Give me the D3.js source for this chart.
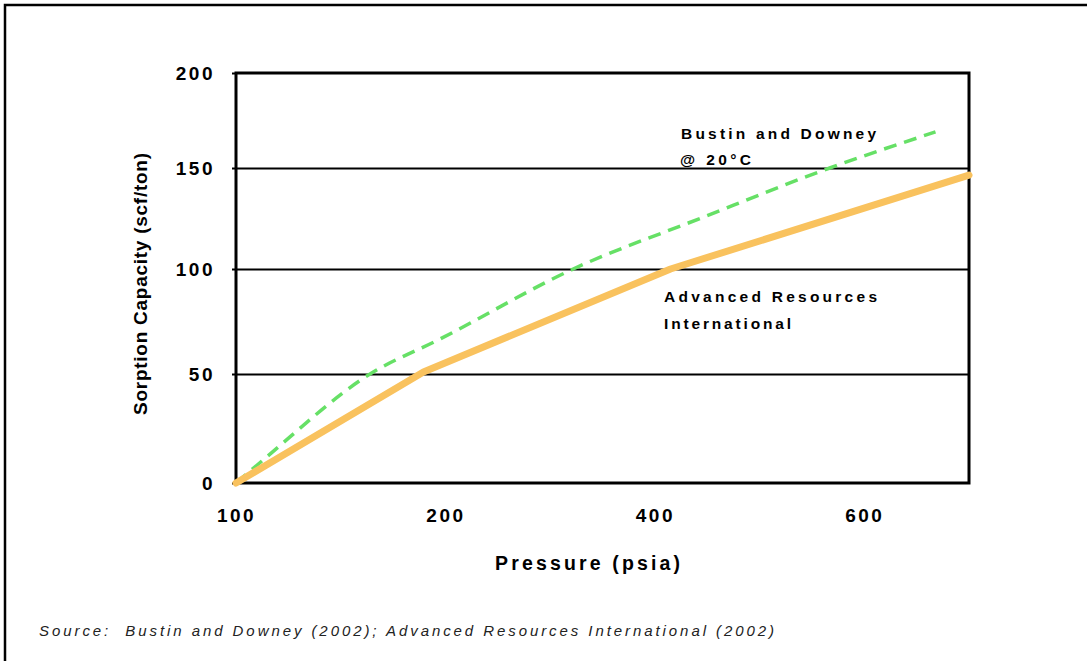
<!DOCTYPE html>
<html>
<head>
<meta charset="utf-8">
<script src="https://cdn.jsdelivr.net/npm/d3@7"></script>
<style>
  html, body { margin: 0; padding: 0; background: #fff; }
  svg { display: block; }
  text { font-family: "Liberation Sans", Arial, Helvetica, sans-serif; }
</style>
</head>
<body>
<svg id="chart" width="1087" height="661"></svg>
<script>
// ---- data ----
const pressureARI = [0, 179, 415, 700];
const capacityARI = [0, 51, 100, 146.5];
const pressureBD = [0, 26, 128, 195, 322, 443, 567, 668];
const capacityBD = [0, 10.6, 50, 66.7, 100, 125, 150, 169];
const xTickValues = [0, 200, 400, 600];
const xTickLabels = ["100", "200", "400", "600"];
const yTickValues = [0, 50, 100, 150, 200];
const yTickLabels = ["0", "50", "100", "150", "200"];
const gridValues = [50, 100, 150];

const svg = d3.select("#chart");
svg.append("rect").attr("width", 1087).attr("height", 661).attr("fill", "#fff");

// outer frame (extends past right/bottom edges)
svg.append("rect").attr("x", 5).attr("y", 5).attr("width", 1200).attr("height", 800)
  .attr("fill", "none").attr("stroke", "#000").attr("stroke-width", 2.5);

const pLeft = 236, pRight = 969, pTop = 73, pBottom = 483;
const x = d3.scaleLinear().domain([0, 700]).range([pLeft, pRight]);
const y = d3.scaleLinear().domain([0, 50, 100, 150, 200]).range([483, 374, 269, 168, 73]);

// gridlines
svg.append("g").attr("transform", `translate(${pLeft},0)`)
  .call(d3.axisLeft(y).tickValues(gridValues).tickSize(-(pRight - pLeft)).tickFormat(""))
  .call(g => g.select(".domain").remove())
  .call(g => g.selectAll("line").attr("stroke", "#000").attr("stroke-width", 2));

// y axis ticks + labels
svg.append("g").attr("transform", `translate(${pLeft},0)`)
  .call(d3.axisLeft(y).tickValues(yTickValues).tickSize(4).tickPadding(17)
        .tickFormat((d, i) => yTickLabels[i]))
  .call(g => g.select(".domain").remove())
  .call(g => g.selectAll("line").attr("stroke", "#000").attr("stroke-width", 2))
  .call(g => g.selectAll("text").attr("font-size", 19).attr("font-weight", "bold")
        .attr("fill", "#000").attr("letter-spacing", "2.5px"));

// x axis labels
svg.append("g").attr("transform", `translate(0,${pBottom})`)
  .call(d3.axisBottom(x).tickValues(xTickValues).tickSize(0).tickPadding(26)
        .tickFormat((d, i) => xTickLabels[i]))
  .call(g => g.select(".domain").remove())
  .call(g => g.selectAll("text").attr("font-size", 19).attr("font-weight", "bold")
        .attr("fill", "#000").attr("letter-spacing", "2.5px"));

// plot frame
svg.append("rect").attr("x", pLeft).attr("y", pTop).attr("width", pRight - pLeft).attr("height", pBottom - pTop)
  .attr("fill", "none").attr("stroke", "#000").attr("stroke-width", 3);

// lines
const ariData = pressureARI.map((p, i) => [p, capacityARI[i]]);
const bdData = pressureBD.map((p, i) => [p, capacityBD[i]]);

svg.append("path").datum(bdData)
  .attr("d", d3.line().x(d => x(d[0])).y(d => y(d[1])).curve(d3.curveMonotoneX))
  .attr("fill", "none").attr("stroke", "#66E066").attr("stroke-width", 3.5)
  .attr("stroke-dasharray", "13,8");

svg.append("path").datum(ariData)
  .attr("d", d3.line().x(d => x(d[0])).y(d => y(d[1])))
  .attr("fill", "none").attr("stroke", "#F9C25E").attr("stroke-width", 7)
  .attr("stroke-linecap", "round").attr("stroke-linejoin", "round");

// annotations
function label(txt, lx, ly, len, size) {
  svg.append("text").attr("x", lx).attr("y", ly).text(txt)
    .attr("font-size", size).attr("font-weight", "bold").attr("fill", "#000")
    .attr("textLength", len).attr("lengthAdjust", "spacing");
}
label("Bustin and Downey", 681, 139, 195, 15.5);
label("@ 20°C", 680, 165, 71, 15.5);
label("Advanced Resources", 664, 302, 213, 15.5);
label("International", 664, 329, 127, 15.5);

// axis titles
svg.append("text").attr("x", 495).attr("y", 570).text("Pressure (psia)")
  .attr("font-size", 19.5).attr("font-weight", "bold").attr("fill", "#000")
  .attr("textLength", 185).attr("lengthAdjust", "spacing");

svg.append("text").attr("transform", "translate(147,284) rotate(-90)")
  .attr("text-anchor", "middle").text("Sorption Capacity (scf/ton)")
  .attr("font-size", 19).attr("font-weight", "bold").attr("fill", "#000")
  .attr("textLength", 262).attr("lengthAdjust", "spacing");

// source
svg.append("text").attr("x", 39).attr("y", 636)
  .text("Source:  Bustin and Downey (2002); Advanced Resources International (2002)")
  .attr("font-size", 15).attr("font-style", "italic").attr("fill", "#222")
  .attr("textLength", 735).attr("lengthAdjust", "spacing")
  .attr("xml:space", "preserve").style("white-space", "pre");
</script>
</body>
</html>
